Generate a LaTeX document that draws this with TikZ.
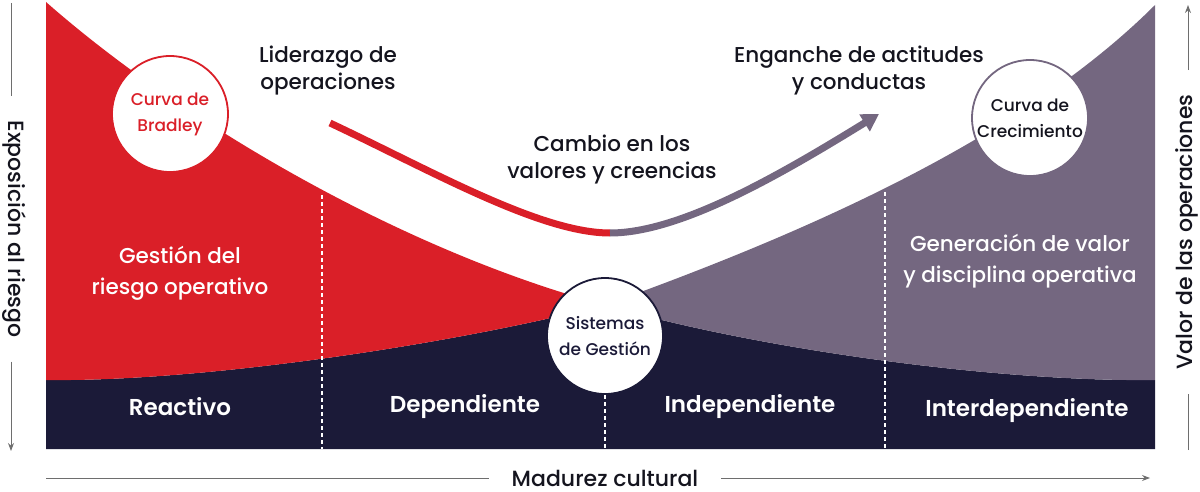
\documentclass[tikz,border=0pt]{standalone}
\usepackage{fontspec}
\setmainfont{Poppins}[UprightFont={* Medium}, BoldFont={* SemiBold}]
\usetikzlibrary{arrows.meta}
\definecolor{riskred}{RGB}{218,31,40}
\definecolor{growgray}{RGB}{116,103,128}
\definecolor{deepnavy}{RGB}{27,26,56}
\definecolor{axisgray}{RGB}{110,110,110}
\definecolor{inkblack}{RGB}{20,20,30}

\begin{document}
\begin{tikzpicture}[x=1pt,y=-1pt,
    hub/.style={circle, fill=white, line width=1.8pt, minimum size=116pt, inner sep=0pt, align=center, font=\fontsize{17}{26}\selectfont},
    lbl/.style={align=center, text=inkblack, font=\fontsize{21.5}{27}\selectfont},
    zone/.style={align=center, text=white, font=\fontsize{21.5}{31}\selectfont},
    stage/.style={text=white, font=\fontsize{23}{26}\bfseries\selectfont},
    cut/.style={white, line width=1.5pt, dash pattern=on 4pt off 3pt},
    axis/.style={axisgray, line width=1pt},
    axlbl/.style={text=inkblack, font=\fontsize{22}{26}\selectfont}]
  \useasboundingbox (0,0) rectangle (1200,492);

  % regions
  \fill[deepnavy] (46,380) .. controls (200,382) and (450,345) .. (605,305)
    .. controls (760,350) and (1000,382) .. (1155,380) -- (1155,449) -- (46,449) -- cycle;
  \fill[riskred] (46,2) .. controls (180,120) and (400,250) .. (605,305)
    .. controls (450,345) and (200,382) .. (46,380) -- cycle;
  \fill[growgray] (605,305) .. controls (800,235) and (1020,140) .. (1155,5)
    -- (1155,380) .. controls (1000,382) and (760,350) .. (605,305) -- cycle;

  % stage borders
  \coordinate (c1) at (322,195); \coordinate (c1b) at (322,449);
  \coordinate (c3) at (885,192); \coordinate (c3b) at (885,449);
  \coordinate (c2b) at (605,449);
  \draw[cut] (c1) -- (c1b);
  \draw[cut] (c3) -- (c3b);

  % circles
  \node[hub, draw=riskred, text=riskred] (bradley) at (170,114) {Curva de\\Bradley};
  \node[hub, draw=growgray, text=inkblack] (growth) at (1030,118) {Curva de\\Crecimiento};
  \node[hub, draw=deepnavy, text=deepnavy] (systems) at (605,336) {Sistemas\\de Gestión};
  \draw[cut] (systems.south) -- (c2b);

  % change arrow
  \coordinate (lstart) at (330,123);
  \coordinate (turn) at (610,233);
  \coordinate (ltip) at (879,114);
  \draw[riskred, line width=7pt] (lstart) .. controls (430,170) and (540,233) .. (turn);
  \draw[growgray, line width=7pt, -{Triangle[length=17pt,width=19pt]}]
    (turn) .. controls (680,233) and (780,175) .. (ltip);

  % labels
  \node[lbl] (lead) at (328,71) {Liderazgo de\\operaciones};
  \node[lbl] (engage) at (859,71) {Enganche de actitudes\\y conductas};
  \node[lbl] (values) at (612,160) {Cambio en los\\valores y creencias};
  \node[zone] (riskmgmt) at (180,273) {Gestión del\\riesgo operativo};
  \node[zone] (valuegen) at (1020,261) {Generación de valor\\y disciplina operativa};

  \node[stage] (reactive) at (180,407) {Reactivo};
  \node[stage] (dependent) at (465,407) {Dependiente};
  \node[stage] (independent) at (750,407) {Independiente};
  \node[stage] (interdep) at (1027,411) {Interdependiente};

  % axes
  \node[axlbl, inner xsep=23pt] (xlab) at (605,478) {Madurez cultural};
  \coordinate (x0) at (46,478); \coordinate (x1) at (1150,478);
  \draw[axis] (x0) -- (xlab.west);
  \draw[axis, -{Stealth[length=8pt,width=6pt]}] (xlab.east) -- (x1);

  \node[axlbl, rotate=-90, inner xsep=24pt] (ylab) at (14,229) {Exposición al riesgo};
  \coordinate (y0) at (11,3); \coordinate (y1) at (11,451);
  \draw[axis] (y0) -- (y0 |- ylab.west);
  \draw[axis, -{Stealth[length=8pt,width=6pt]}] (y0 |- ylab.east) -- (y1);

  \node[axlbl, rotate=90, inner xsep=24pt] (vlab) at (1187,232) {Valor de las operaciones};
  \coordinate (v0) at (1188,450); \coordinate (v1) at (1188,5);
  \draw[axis] (v0) -- (v0 |- vlab.west);
  \draw[axis, -{Stealth[length=8pt,width=6pt]}] (v0 |- vlab.east) -- (v1);
\end{tikzpicture}
\end{document}
